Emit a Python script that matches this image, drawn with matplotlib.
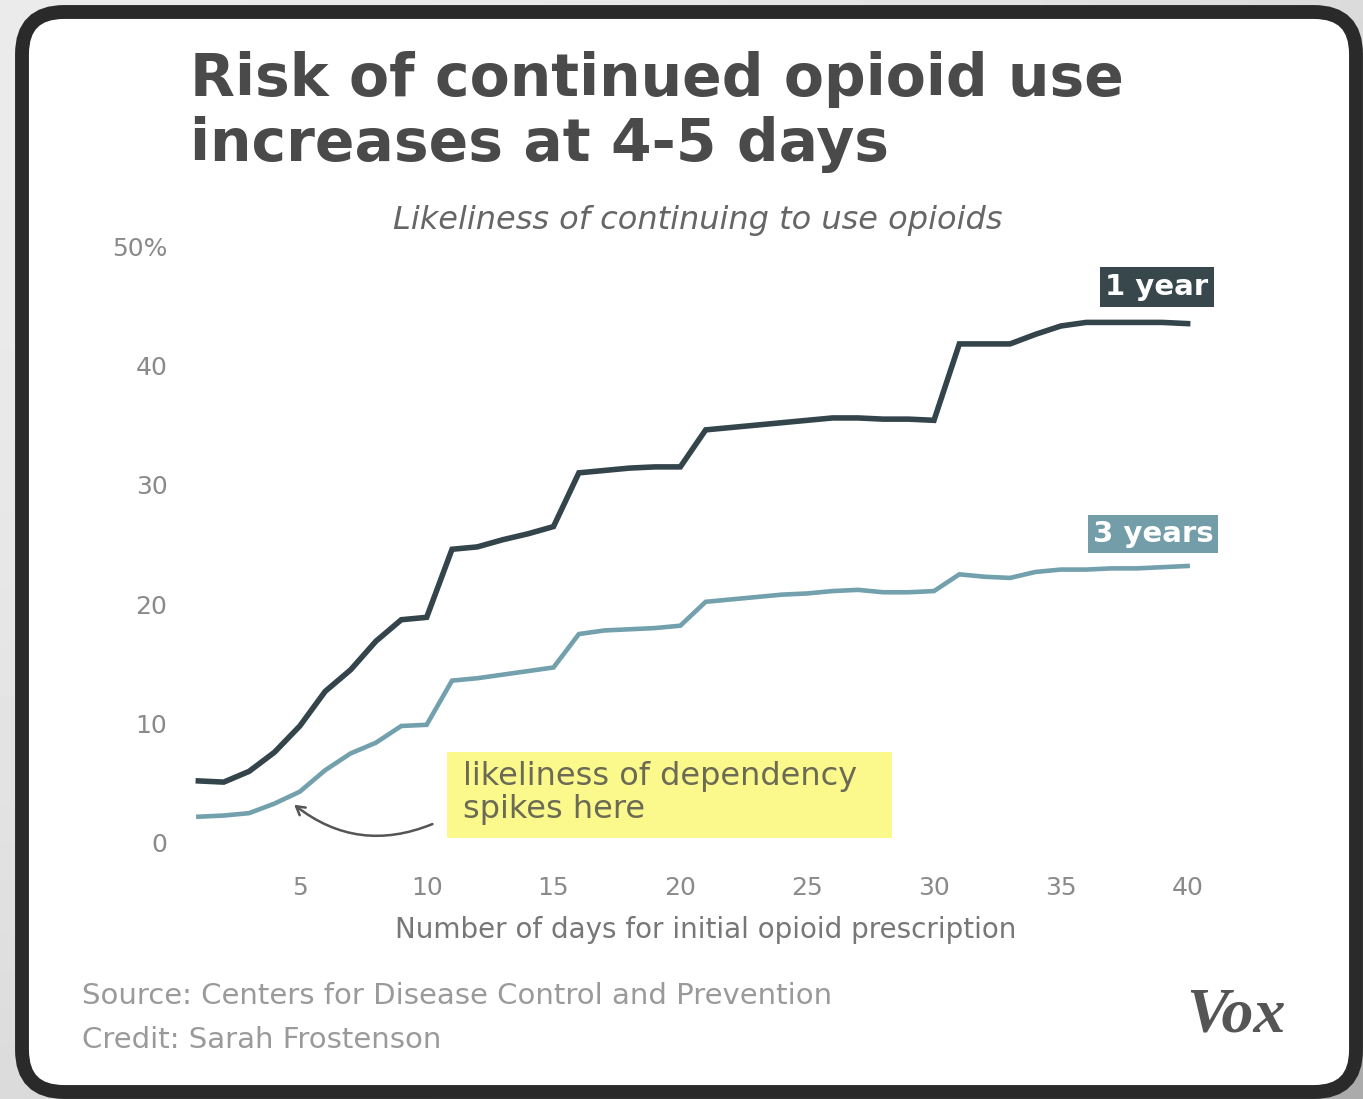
import numpy as np
import matplotlib
matplotlib.use("Agg")
import matplotlib.pyplot as plt
from matplotlib.patches import FancyBboxPatch, Rectangle

# ---- data ----
days = list(range(1, 41))
one_year = [5.2, 5.1, 6.0, 7.6, 9.8, 12.7, 14.5, 16.9, 18.7, 18.9,
            24.6, 24.8, 25.4, 25.9, 26.5, 31.0, 31.2, 31.4, 31.5, 31.5,
            34.6, 34.8, 35.0, 35.2, 35.4, 35.6, 35.6, 35.5, 35.5, 35.4,
            41.8, 41.8, 41.8, 42.6, 43.3, 43.6, 43.6, 43.6, 43.6, 43.5]
three_years = [2.2, 2.3, 2.5, 3.3, 4.3, 6.1, 7.5, 8.4, 9.8, 9.9,
               13.6, 13.8, 14.1, 14.4, 14.7, 17.5, 17.8, 17.9, 18.0, 18.2,
               20.2, 20.4, 20.6, 20.8, 20.9, 21.1, 21.2, 21.0, 21.0, 21.1,
               22.5, 22.3, 22.2, 22.7, 22.9, 22.9, 23.0, 23.0, 23.1, 23.2]
x_ticks = [5, 10, 15, 20, 25, 30, 35, 40]
y_ticks = [0, 10, 20, 30, 40, 50]
y_tick_labels = ["0", "10", "20", "30", "40", "50%"]
series_labels = ["1 year", "3 years"]

W, H = 1363, 1099
fig = plt.figure(figsize=(W / 100, H / 100), dpi=100)

# background / frame in pixel coordinates
bg = fig.add_axes([0, 0, 1, 1], zorder=0)
bg.set_xlim(0, W)
bg.set_ylim(H, 0)
bg.axis("off")
gx, gy = np.meshgrid(np.linspace(0, 1, 60), np.linspace(0, 1, 60))
grad = 0.92 - 0.25 * (0.5 * gx + 0.5 * gy) ** 2
bg.imshow(grad, cmap="gray", vmin=0, vmax=1, extent=(0, W, H, 0), aspect="auto", zorder=0)
frame = FancyBboxPatch((22, 12), 1334, 1080, boxstyle="round,pad=0,rounding_size=42",
                       facecolor="white", edgecolor="#2a2a2a", linewidth=10, zorder=1)
bg.add_patch(frame)

# title & subtitle
bg.text(190, 112, "Risk of continued opioid use\nincreases at 4-5 days", fontsize=42,
        fontweight="bold", color="#4a4a4a", ha="left", va="center", linespacing=1.17,
        family="DejaVu Sans", zorder=3)
bg.text(698, 220, "Likeliness of continuing to use opioids", fontsize=23, style="italic",
        color="#666666", ha="center", va="center", zorder=3)

# source / credit
bg.text(82, 996, "Source: Centers for Disease Control and Prevention", fontsize=21,
        color="#9a9a9a", ha="left", va="center", zorder=3)
bg.text(82, 1040, "Credit: Sarah Frostenson", fontsize=21,
        color="#9a9a9a", ha="left", va="center", zorder=3)
bg.text(1236, 1016, "Vox", fontsize=46, fontweight="bold", style="italic",
        family="Liberation Serif", color="#555555", ha="center", va="center", zorder=3)

# annotation box
bg.add_patch(Rectangle((447, 752), 445, 86, facecolor="#fbf88c", edgecolor="none", zorder=2))
bg.text(463, 793, "likeliness of dependency\nspikes here", fontsize=23, color="#6b6b55",
        ha="left", va="center", linespacing=1.1, zorder=3)
bg.annotate("", xy=(292, 803), xytext=(435, 823),
            arrowprops=dict(arrowstyle="->,head_length=0.6,head_width=0.35", color="#555555",
                            lw=1.8, connectionstyle="arc3,rad=-0.3"), zorder=3)

# x axis title
bg.text(706, 930, "Number of days for initial opioid prescription", fontsize=20,
        color="#777777", ha="center", va="center", zorder=3)

# main axes
ax = fig.add_axes([173 / W, 256 / H, 1040 / W, 597 / H], zorder=2)
ax.patch.set_alpha(0)
ax.plot(days, one_year, color="#33444a", lw=4.0, solid_joinstyle="miter", zorder=3)
ax.plot(days, three_years, color="#72a0ac", lw=3.3, solid_joinstyle="miter", zorder=3)
ax.set_xlim(0, 41)
ax.set_ylim(0, 50)
for s in ax.spines.values():
    s.set_visible(False)
ax.set_xticks(x_ticks)
ax.set_xticklabels([str(t) for t in x_ticks])
ax.set_yticks(y_ticks)
ax.set_yticklabels(y_tick_labels)
ax.tick_params(axis="both", length=0, labelsize=18, labelcolor="#8a8a8a")
ax.tick_params(axis="x", pad=24)
ax.tick_params(axis="y", pad=4)

# series labels
bg.text(1157, 287, series_labels[0], fontsize=21, fontweight="bold", color="white",
        ha="center", va="center", zorder=4,
        bbox=dict(boxstyle="square,pad=0.2", facecolor="#37474c", edgecolor="none"))
bg.text(1153, 534, series_labels[1], fontsize=21, fontweight="bold", color="white",
        ha="center", va="center", zorder=4,
        bbox=dict(boxstyle="square,pad=0.17", facecolor="#739ea9", edgecolor="none"))

fig.savefig("out.png", dpi=100)
